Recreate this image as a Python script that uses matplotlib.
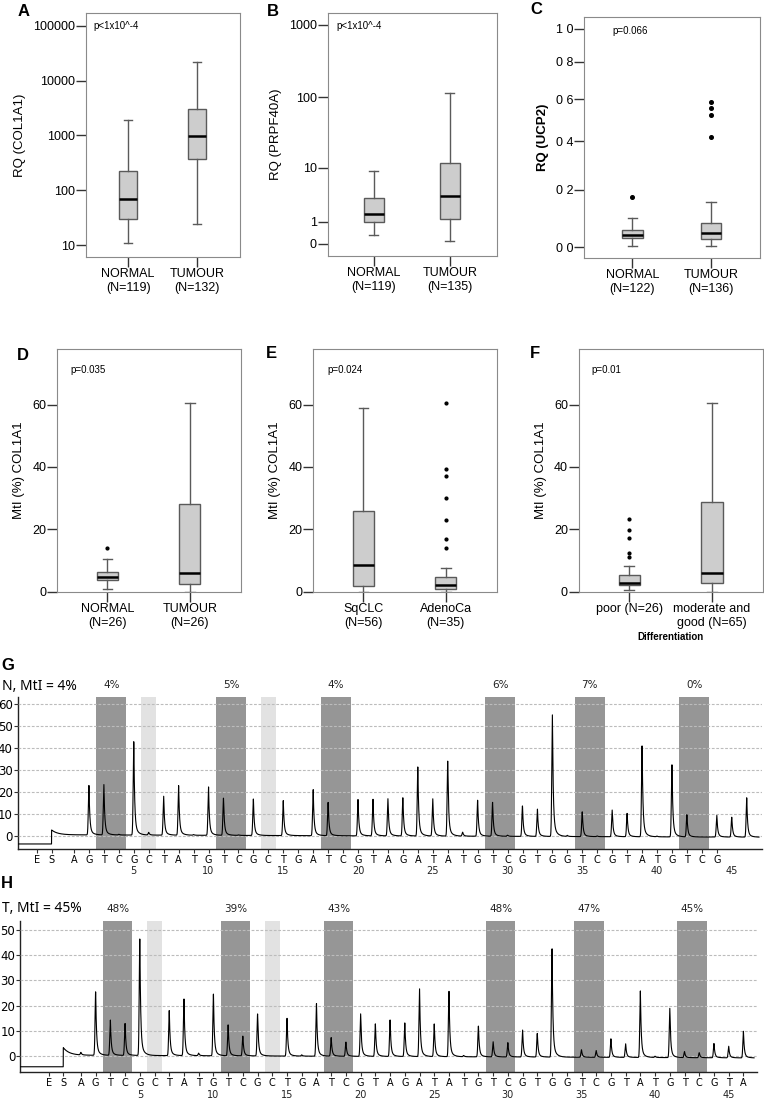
import matplotlib
matplotlib.use('Agg')
import matplotlib.pyplot as plt
import matplotlib.transforms as mtransforms
from matplotlib.ticker import NullLocator
import numpy as np

# ---------------- box plot data ----------------
# A: RQ (COL1A1)
a_groups = ['NORMAL\n(N=119)', 'TUMOUR\n(N=132)']
a_whislo = [11, 24]
a_q1 = [30, 370]
a_med = [68, 980]
a_q3 = [225, 3000]
a_whishi = [1950, 21500]
a_fliers = [[], []]

# B: RQ (PRPF40A)
b_groups = ['NORMAL\n(N=119)', 'TUMOUR\n(N=135)']
b_whislo = [0.32, 0.1]
b_q1 = [1.0, 1.18]
b_med = [1.6, 3.6]
b_q3 = [3.2, 11.7]
b_whishi = [8.9, 114]
b_fliers = [[], []]

# C: RQ (UCP2)
c_groups = ['NORMAL\n(N=122)', 'TUMOUR\n(N=136)']
c_whislo = [0.005, 0.004]
c_q1 = [0.029, 0.027]
c_med = [0.040, 0.045]
c_q3 = [0.056, 0.081]
c_whishi = [0.097, 0.153]
c_fliers = [[0.172], [0.419, 0.52, 0.558, 0.585]]

# D: MtI normal vs tumour
d_groups = ['NORMAL\n(N=26)', 'TUMOUR\n(N=26)']
d_whislo = [0.8, 0.0]
d_q1 = [3.8, 2.4]
d_med = [4.8, 6.1]
d_q3 = [6.4, 28.2]
d_whishi = [10.4, 60.6]
d_fliers = [[14.1], []]

# E: MtI by histology
e_groups = ['SqCLC\n(N=56)', 'AdenoCa\n(N=35)']
e_whislo = [0.0, 0.0]
e_q1 = [1.9, 1.0]
e_med = [8.6, 2.2]
e_q3 = [26.0, 4.8]
e_whishi = [59.0, 7.5]
e_fliers = [[], [14.1, 16.8, 23.0, 29.9, 37.0, 39.2, 60.5]]

# F: MtI by differentiation
f_groups = ['poor (N=26)', 'moderate and\ngood (N=65)']
f_whislo = [0.5, 0.0]
f_q1 = [2.2, 2.7]
f_med = [2.9, 5.9]
f_q3 = [5.3, 28.7]
f_whishi = [8.3, 60.6]
f_fliers = [[11.2, 12.3, 17.3, 19.8, 23.3], []]

# ---------------- pyrogram data ----------------
dispensation = 'AGTCGCTATGTCGCTGATCGTAGATATGTCGTGGTCGTATGTCGTA'
g_heights = [0, 22.8, 23, 0.3, 42.9, 1.2, 17.8, 22.7, 0.3, 22.1,
             17, 0.2, 16.8, 0, 16, 0, 21.2, 15.2, 0, 16.7,
             16.7, 17, 17.5, 31.8, 17, 34.3, 1.8, 16.6, 15.5, 0.5,
             14, 12.5, 55.6, 0.5, 11.4, 0.3, 12.2, 10.7, 41.9, 0.3,
             33, 10.2, 0, 9.9, 9.1, 18.1]
h_heights = [1, 25.3, 14, 12.7, 46.7, 0, 18, 22.5, 1, 24.5,
             12.3, 7.9, 16.7, 0, 15, 0.5, 20.9, 7.4, 5.7, 16.9,
             13, 14.5, 13.4, 26.9, 13, 26.2, 0.5, 12.3, 6, 5.7,
             10.7, 9.4, 43.4, 0, 3, 2.7, 7.4, 5.4, 26.5, 0.5,
             19.6, 2.4, 2, 5.7, 4.6, 10.6]
cpg_sites = [(3, 4), (11, 12), (18, 19), (29, 30), (35, 36), (42, 43)]
control_sites = [6, 14]
g_percent = ['4%', '5%', '4%', '6%', '7%', '0%']
h_percent = ['48%', '39%', '43%', '48%', '47%', '45%']

# ---------------- figure ----------------
W, H = 764, 1105
fig = plt.figure(figsize=(W / 100, H / 100), dpi=100)
plt.rcParams['font.family'] = ['Liberation Sans', 'DejaVu Sans']


def add_ax(x0, y0, x1, y1):
    return fig.add_axes([x0 / W, 1 - y1 / H, (x1 - x0) / W, (y1 - y0) / H])


def fig_text(x, y, s, **kw):
    fig.text(x / W, 1 - y / H, s, **kw)


def draw_box(ax, groups, whislo, q1, med, q3, whishi, fliers, msize):
    stats = []
    for i in range(len(groups)):
        stats.append(dict(label=groups[i], whislo=whislo[i], q1=q1[i], med=med[i],
                          q3=q3[i], whishi=whishi[i], fliers=fliers[i]))
    ax.bxp(stats, positions=[1, 2], widths=0.26, capwidths=0.12, patch_artist=True,
           boxprops=dict(facecolor='#cdcdcd', edgecolor='#5a5a5a', linewidth=1),
           whiskerprops=dict(color='#5a5a5a', linewidth=1),
           capprops=dict(color='#5a5a5a', linewidth=1),
           medianprops=dict(color='black', linewidth=1.8),
           flierprops=dict(marker='o', markerfacecolor='black', markeredgecolor='black',
                           markersize=msize, linestyle='none'))
    ax.set_xlim(0.39, 2.62)
    for s in ax.spines.values():
        s.set_color('#8a8a8a')
    ax.tick_params(axis='both', length=7, width=1, color='#333333', labelsize=9, pad=1)
    ax.yaxis.set_minor_locator(NullLocator())


def log1p_scale(ax):
    ax.set_yscale('function', functions=(lambda v: np.log10(np.maximum(v + 1, 1e-9)),
                                         lambda t: 10 ** t - 1))


# A
ax = add_ax(86, 13, 240, 257)
ax.set_yscale('log')
draw_box(ax, a_groups, a_whislo, a_q1, a_med, a_q3, a_whishi, a_fliers, 2.4)
ax.set_ylim(6.05, 172000)
ax.set_yticks([10, 100, 1000, 10000, 100000], ['10', '100', '1000', '10000', '100000'])
ax.yaxis.set_minor_locator(NullLocator())
ax.set_ylabel('RQ (COL1A1)', fontsize=9.5, labelpad=5)
ax.text(0.05, 0.948, 'p<1x10^-4', transform=ax.transAxes, fontsize=7, va='center')

# B
ax = add_ax(327.7, 13, 496.7, 256)
log1p_scale(ax)
draw_box(ax, b_groups, b_whislo, b_q1, b_med, b_q3, b_whishi, b_fliers, 2.4)
ax.set_ylim(-0.315, 1445)
ax.set_yticks([0, 1, 10, 100, 1000], ['0', '1', '10', '100', '1000'])
ax.yaxis.set_minor_locator(NullLocator())
ax.set_ylabel('RQ (PRPF40A)', fontsize=9.5, labelpad=5)
ax.text(0.05, 0.948, 'p<1x10^-4', transform=ax.transAxes, fontsize=7, va='center')

# C
ax = add_ax(584.3, 16.7, 760, 258.3)
log1p_scale(ax)
draw_box(ax, c_groups, c_whislo, c_q1, c_med, c_q3, c_whishi, c_fliers, 2.6)
ax.set_ylim(-0.0343, 1.078)
ax.set_yticks([0, 0.2, 0.4, 0.6, 0.8, 1.0], ['0 0', '0 2', '0 4', '0 6', '0 8', '1 0'])
ax.yaxis.set_minor_locator(NullLocator())
ax.set_ylabel('RQ (UCP2)', fontsize=9.5, fontweight='bold', labelpad=5)
ax.text(0.16, 0.94, 'p=0.066', transform=ax.transAxes, fontsize=7, va='center')

# D, E, F
row2 = [
    (57.3, 240.7, d_groups, d_whislo, d_q1, d_med, d_q3, d_whishi, d_fliers, 'p=0.035', 0.073),
    (313.3, 496.7, e_groups, e_whislo, e_q1, e_med, e_q3, e_whishi, e_fliers, 'p=0.024', 0.079),
    (579, 763, f_groups, f_whislo, f_q1, f_med, f_q3, f_whishi, f_fliers, 'p=0.01', 0.069),
]
for x0, x1, grp, wl, q1, md, q3, wh, fl, ptxt, px in row2:
    ax = add_ax(x0, 349.3, x1, 592)
    draw_box(ax, grp, wl, q1, md, q3, wh, fl, 2.0)
    ax.set_ylim(-0.1, 77.7)
    ax.set_yticks([0, 20, 40, 60])
    ax.set_ylabel('MtI (%) COL1A1', fontsize=9.5, labelpad=5)
    ax.text(px, 0.915, ptxt, transform=ax.transAxes, fontsize=7, va='center')

fig_text(670, 636.5, 'Differentiation', fontsize=7, fontweight='bold',
         ha='center', va='center')

# panel letters
for lab, x, y in [('A', 23.5, 12), ('B', 272.7, 11), ('C', 536, 10),
                  ('D', 23, 355), ('E', 271.7, 354), ('F', 535, 354),
                  ('G', 7.5, 665), ('H', 7, 884)]:
    fig_text(x, y, lab, fontsize=12, fontweight='bold', ha='center', va='center')


# ---------------- pyrograms ----------------
def pyro_trace(xs, heights, step_pos, pre_level, step_height, drift):
    y = np.where(xs < step_pos, pre_level, 0.0)
    after = xs >= step_pos
    d0 = xs[after] - step_pos
    y[after] += step_height * np.exp(-d0 / 0.4) + drift[0] + (drift[1] - drift[0]) * d0 / 47
    for i, h in enumerate(heights):
        p = i + 1
        d = xs - p
        dp = np.clip(d, 0, None)
        shape = np.where(d < 0, np.exp(-d ** 2 / (2 * 0.04 ** 2)),
                         0.88 * np.exp(-dp / 0.055) + 0.12 * np.exp(-dp / 0.22))
        y += h * shape
    return y


def draw_pyro(ax, letters, heights, xlim, ylim, ymax_tick, e_pos, s_pos, pct,
              pre_level, step_height, drift):
    trans = mtransforms.blended_transform_factory(ax.transData, ax.transAxes)
    for (a, b), t in zip(cpg_sites, pct):
        ax.axvspan(a - 0.5, b + 0.5, color='#969696', lw=0, zorder=0)
        ax.text((a + b) / 2, 1.078, t, transform=trans, ha='center', va='center',
                fontsize=7.5, family='DejaVu Sans', color='#222222')
    for c in control_sites:
        ax.axvspan(c - 0.5, c + 0.5, color='#e2e2e2', lw=0, zorder=0)
    xs = np.linspace(xlim[0], xlim[1] - 0.2, 8000)
    ax.plot(xs, pyro_trace(xs, heights, s_pos, pre_level, step_height, drift),
            color='black', lw=0.8, zorder=3)
    ax.set_xlim(*xlim)
    ax.set_ylim(*ylim)
    ax.set_yticks(np.arange(0, ymax_tick + 1, 10))
    ax.yaxis.grid(True, linestyle=(0, (2.5, 1.5)), color='#bcbcbc', lw=0.8, zorder=1)
    ax.set_axisbelow(False)
    for s in ['top', 'right']:
        ax.spines[s].set_visible(False)
    for s in ['left', 'bottom']:
        ax.spines[s].set_color('#222222')
        ax.spines[s].set_linewidth(1)
    pos = [e_pos, s_pos] + list(range(1, len(letters) + 1))
    ax.set_xticks(pos, ['E', 'S'] + list(letters))
    ax.tick_params(axis='x', length=3, pad=1, labelsize=7, color='#333333',
                   labelfontfamily='DejaVu Sans')
    ax.tick_params(axis='y', length=3, pad=0.5, labelsize=8.5, color='#333333',
                   labelfontfamily='DejaVu Sans')
    axh = ax.get_position().height * H
    for n in range(5, 50, 5):
        ax.text(n, -22.5 / axh, str(n), transform=trans, ha='center', va='center',
                fontsize=7, family='DejaVu Sans', color='#222222')


ax = add_ax(17.5, 696.7, 762, 849)
draw_pyro(ax, dispensation[:44], g_heights, (-2.78, 47.02), (-6.1, 63.5), 60,
          -1.5, -0.5, g_percent, -3.8, 2.2, (0.4, -0.7))
fig_text(2, 686, 'N, MtI = 4%', fontsize=10, family=['Noto Sans', 'DejaVu Sans'],
         ha='left', va='center')

ax = add_ax(20, 921, 757, 1072.3)
draw_pyro(ax, dispensation, h_heights, (-3.14, 46.92), (-6.5, 53.6), 50,
          -1.15, -0.2, h_percent, -4.3, 3.0, (0.3, -0.8))
fig_text(2, 909, 'T, MtI = 45%', fontsize=10, family=['Noto Sans', 'DejaVu Sans'],
         ha='left', va='center')

fig.savefig('out.png', dpi=100)
